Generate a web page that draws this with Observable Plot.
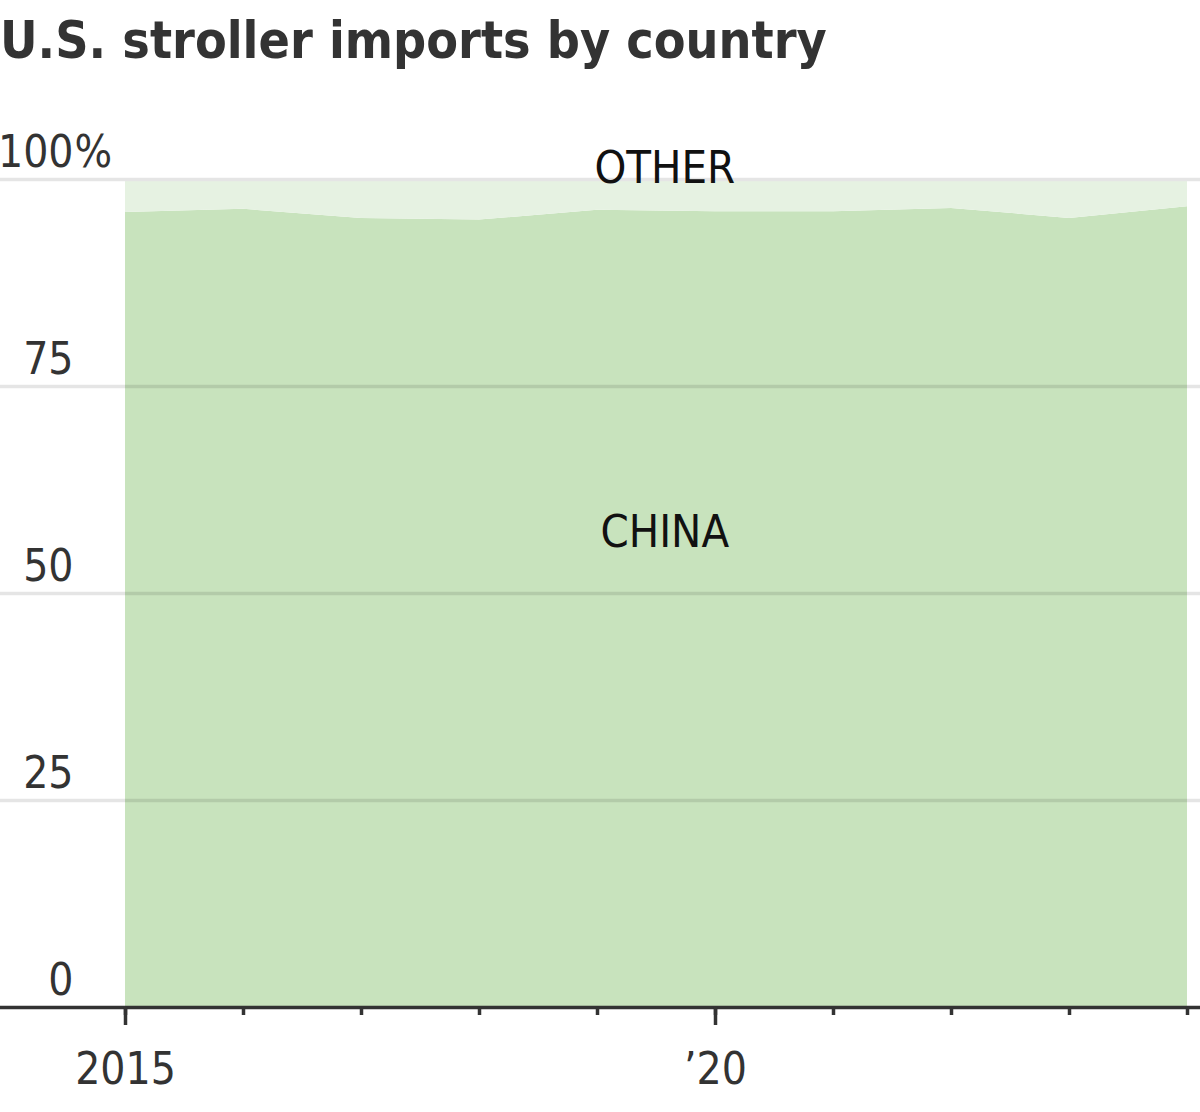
<!DOCTYPE html>
<html>
<head>
<meta charset="utf-8">
<script src="https://cdn.jsdelivr.net/npm/d3@7"></script>
<script src="https://cdn.jsdelivr.net/npm/@observablehq/plot@0.6"></script>
<style>
  html, body { margin: 0; padding: 0; background: #fff; }
  #title {
    font-family: "Liberation Sans Narrow", "DejaVu Sans Condensed", "Roboto", sans-serif;
    font-stretch: condensed;
    font-weight: bold;
    font-size: 51.5px;
    color: #333;
    height: 90px;
    line-height: 80px;
    margin: 0;
    padding-left: 0;
    white-space: nowrap;
  }
  #chart svg { display: block; overflow: visible; }
</style>
</head>
<body>
<div id="title">U.S. stroller imports by country</div>
<div id="chart"></div>
<script>
const years = [2015, 2016, 2017, 2018, 2019, 2020, 2021, 2022, 2023, 2024];
const chinaShare = [96.0, 96.4, 95.3, 95.1, 96.3, 96.1, 96.1, 96.5, 95.3, 96.7];
const otherShare = chinaShare.map(v => +(100 - v).toFixed(1));
const countries = ["China", "Other"];
const yTicks = [0, 25, 50, 75, 100];
const majorYears = [2015, 2020];
const areaLabels = [
  {text: "OTHER", x: 2019.57, y: 101.3},
  {text: "CHINA", x: 2019.57, y: 57.4}
];

const rows = [];
years.forEach((yr, i) => {
  rows.push({year: yr, country: "China", share: chinaShare[i]});
  rows.push({year: yr, country: "Other", share: otherShare[i]});
});

const font = '"Liberation Sans Narrow", "DejaVu Sans Condensed", "Roboto", sans-serif';

const chart = Plot.plot({
  width: 1200,
  height: 1022,
  marginTop: 89,
  marginBottom: 105,
  marginLeft: 125,
  marginRight: 13,
  style: {fontFamily: font, fontStretch: "condensed", background: "#fff"},
  x: {type: "linear", domain: [2015, 2024], axis: null},
  y: {domain: [0, 100], axis: null},
  color: {domain: countries, range: ["#c8e3bd", "#e6f2e2"]},
  marks: [
    Plot.areaY(rows, {x: "year", y: "share", fill: "country", order: countries}),
    Plot.ruleY(yTicks.filter(d => d > 0 && d < 100), {stroke: "#000", strokeOpacity: 0.1, strokeWidth: 3.5, insetLeft: -125, insetRight: -13}),
    Plot.ruleY(yTicks.filter(d => d === 100), {stroke: "#e5e5e5", strokeWidth: 3.5, insetLeft: -125, insetRight: -13}),
    Plot.ruleY([0], {stroke: "#333", strokeWidth: 3.5, insetLeft: -125, insetRight: -13}),
    Plot.text(yTicks, {y: d => d, text: d => String(d), frameAnchor: "left", dx: -52, textAnchor: "end", lineAnchor: "bottom", dy: -13, fontSize: 44, fill: "#333"}),
    Plot.text([100], {y: d => d, text: () => "%", frameAnchor: "left", dx: -51, textAnchor: "start", lineAnchor: "bottom", dy: -13, fontSize: 44, fill: "#333"}),
    Plot.axisX({ticks: years, tickSize: 8, tickFormat: () => "", strokeWidth: 3.5, stroke: "#333", label: null}),
    Plot.axisX({ticks: majorYears, tickSize: 18, strokeWidth: 3.5, stroke: "#333", label: null, tickPadding: 27, fontSize: 44, fill: "#333",
      tickFormat: d => d === 2015 ? "2015" : "\u2019" + String(d).slice(2)}),
    Plot.text(areaLabels, {x: "x", y: "y", text: "text", fontSize: 45, fill: "#111", lineAnchor: "middle"})
  ]
});
document.getElementById("chart").appendChild(chart);
</script>
</body>
</html>
